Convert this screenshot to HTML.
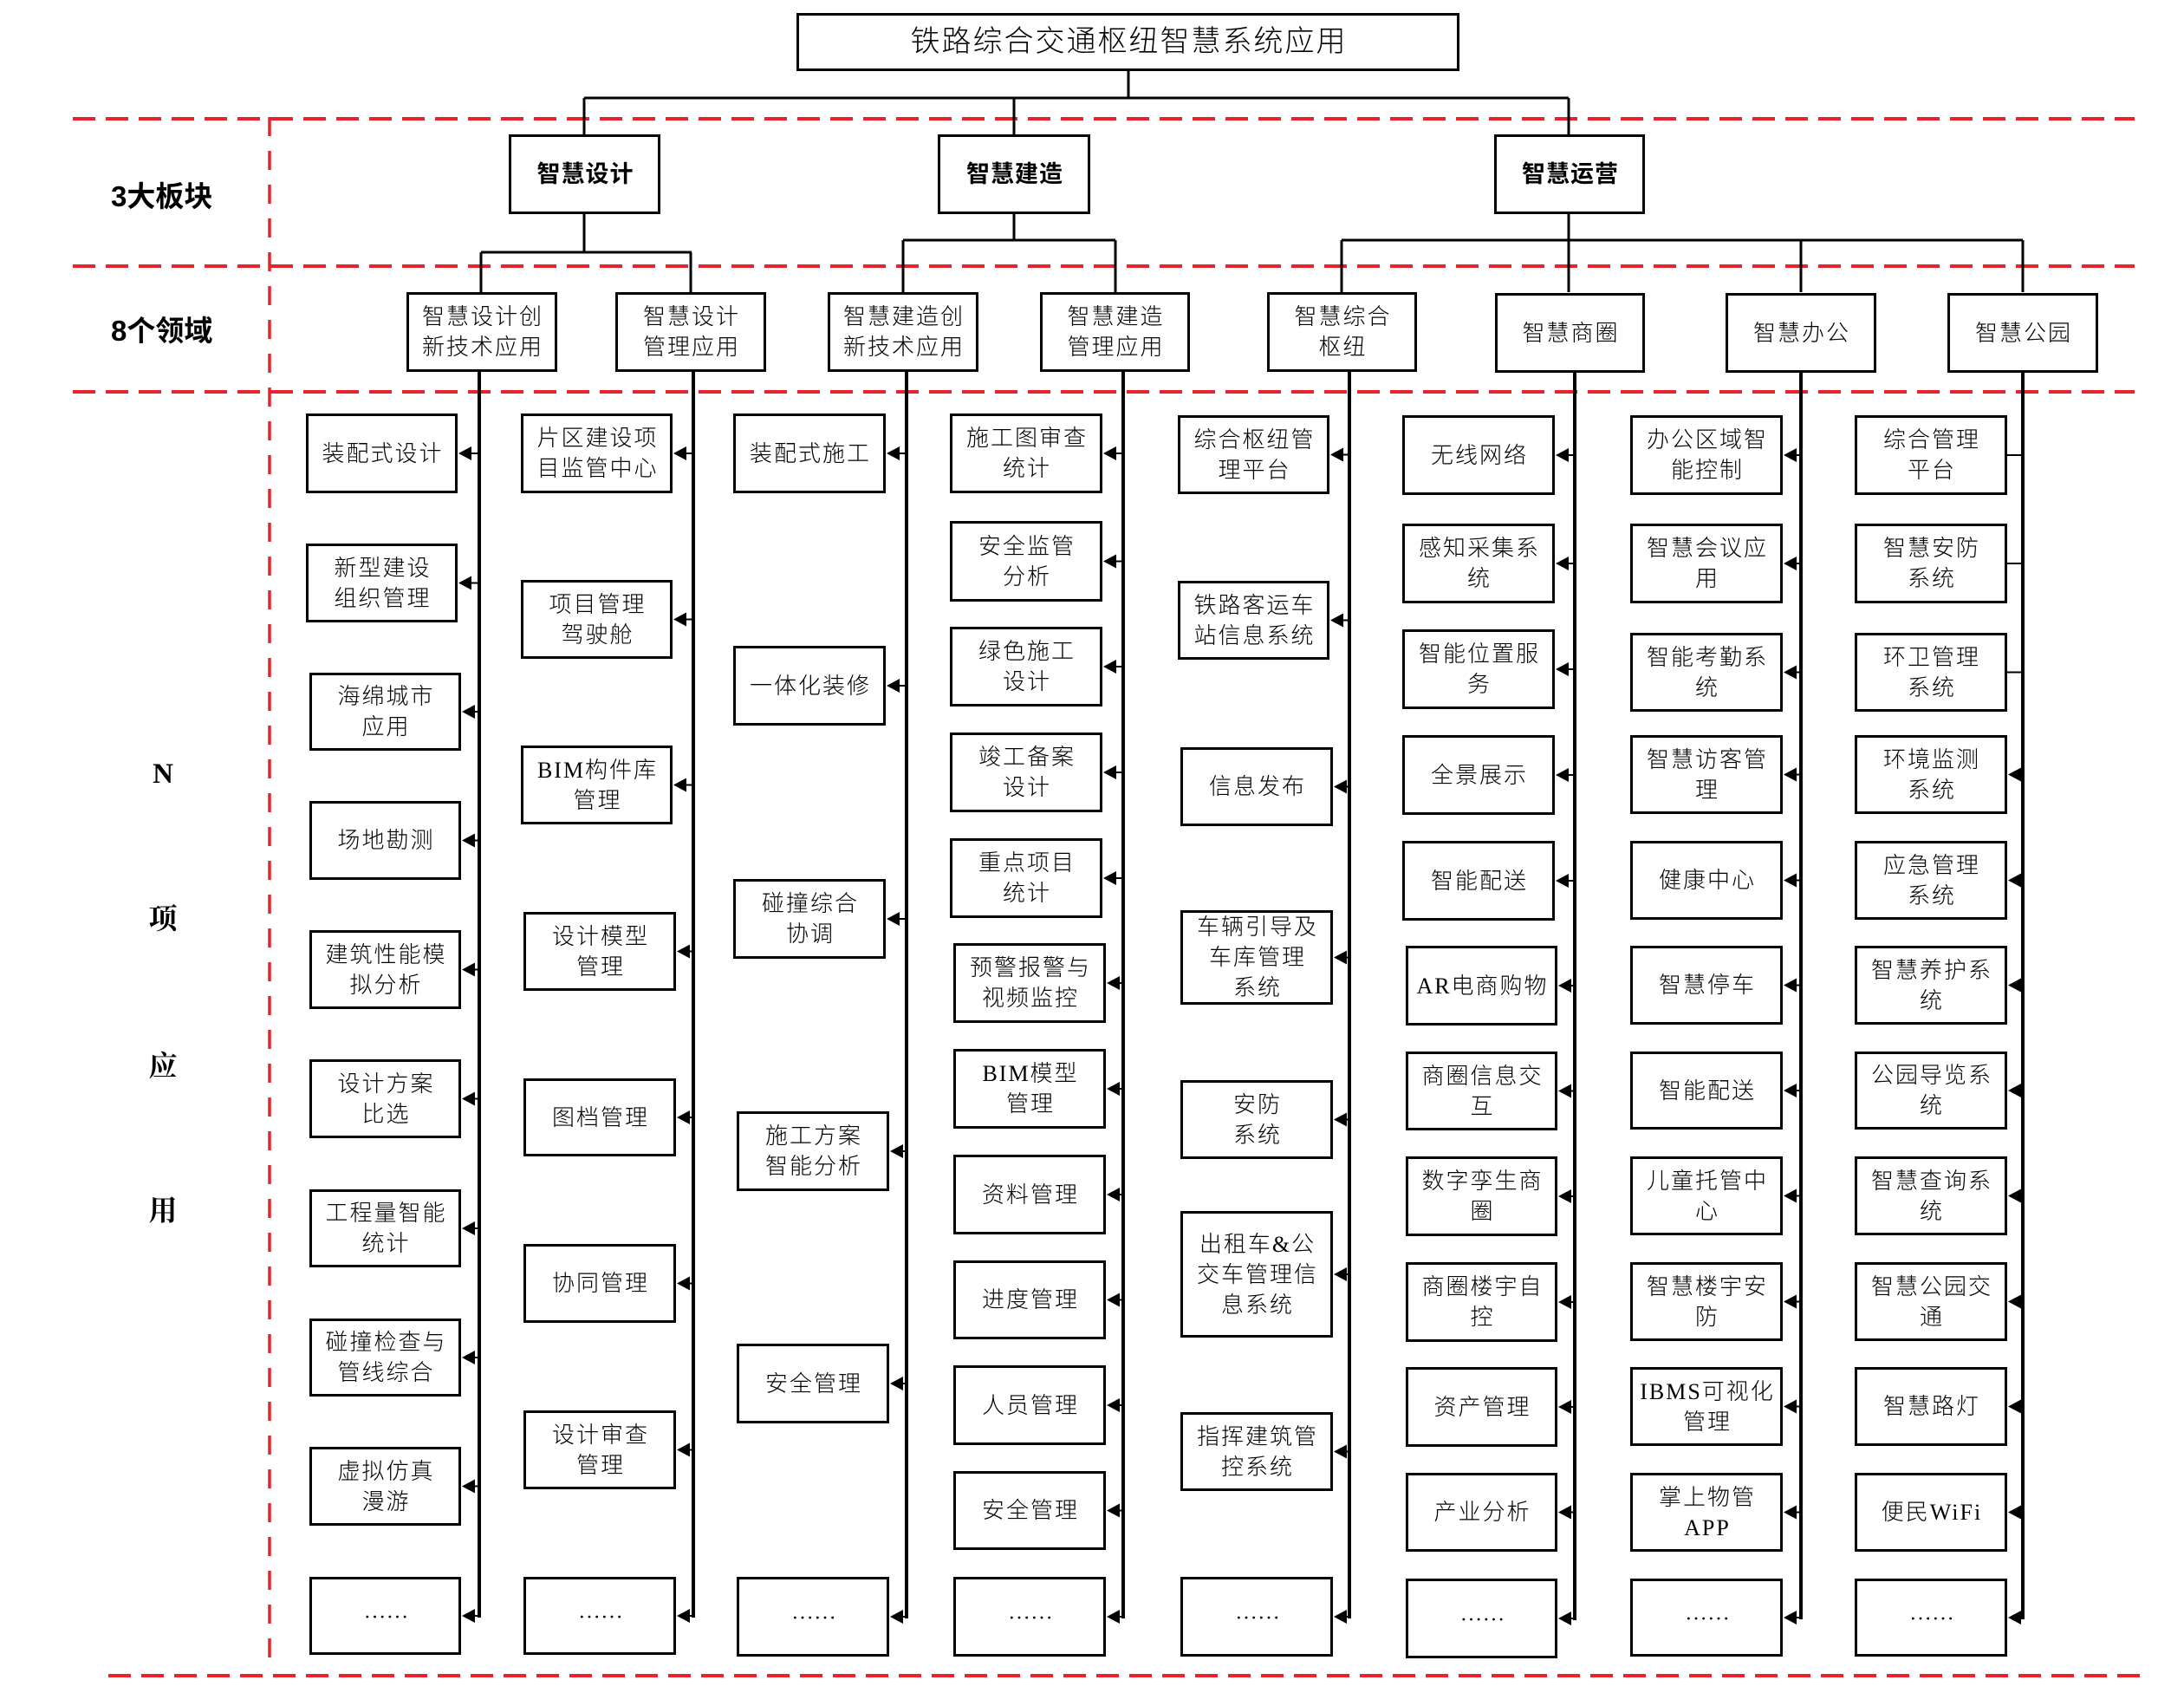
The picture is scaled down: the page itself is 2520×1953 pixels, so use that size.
<!DOCTYPE html>
<html><head><meta charset="utf-8">
<style>
html,body{margin:0;padding:0;background:#fff;}
body{width:2520px;height:1953px;position:relative;overflow:hidden;}
svg{position:absolute;left:0;top:0;}
.b{position:absolute;box-sizing:border-box;border:3px solid #000;background:#fff;display:flex;align-items:center;justify-content:center;text-align:center;font-family:"Liberation Serif","Noto Sans CJK SC",sans-serif;font-weight:300;font-size:26px;line-height:35px;letter-spacing:2px;color:#000;padding-left:2px;}
.t{font-family:"Liberation Sans","Noto Sans CJK SC",sans-serif;font-size:34px;letter-spacing:2px;font-weight:300;}
.k{font-family:"Liberation Sans","Noto Sans CJK SC",sans-serif;font-weight:bold;font-size:27px;letter-spacing:1px;}
.d{font-family:"Liberation Sans","Noto Sans CJK SC",sans-serif;font-weight:300;font-size:26px;letter-spacing:2px;}
.e{font-family:"Noto Sans CJK SC",sans-serif;letter-spacing:0;}
.lab{position:absolute;font-family:"Liberation Sans","Noto Sans CJK SC",sans-serif;font-weight:bold;font-size:33px;line-height:40px;white-space:nowrap;}
.nl{position:absolute;width:60px;left:158px;text-align:center;font-family:"Liberation Serif","Noto Serif CJK SC",serif;font-weight:bold;font-size:33px;line-height:40px;}
</style></head><body>
<svg width="2520" height="1953" viewBox="0 0 2520 1953">
<defs><polygon id="ah" points="0,0 15,-8 15,8" fill="#000"/></defs>
<g stroke="#e8232b" stroke-width="4" stroke-dasharray="26 12" fill="none">
<line x1="84" y1="137" x2="2463" y2="137"/>
<line x1="84" y1="307" x2="2463" y2="307"/>
<line x1="84" y1="452" x2="2463" y2="452"/>
<line x1="125" y1="1933" x2="2476" y2="1933"/>
</g>
<line x1="311" y1="135" x2="311" y2="1912" stroke="#e8232b" stroke-width="3.5" stroke-dasharray="22 17"/>
<g stroke="#000" stroke-width="3" fill="none">
<line x1="1302" y1="82" x2="1302" y2="113"/>
<line x1="674" y1="113" x2="1810" y2="113"/>
<line x1="674" y1="113" x2="674" y2="155"/>
<line x1="1170" y1="113" x2="1170" y2="155"/>
<line x1="1810" y1="113" x2="1810" y2="155"/>
<line x1="674" y1="247" x2="674" y2="291"/>
<line x1="555" y1="291" x2="798" y2="291"/>
<line x1="555" y1="291" x2="555" y2="337"/>
<line x1="797" y1="291" x2="797" y2="337"/>
<line x1="1170" y1="247" x2="1170" y2="277"/>
<line x1="1042" y1="277" x2="1287" y2="277"/>
<line x1="1042" y1="277" x2="1042" y2="337"/>
<line x1="1287" y1="277" x2="1287" y2="337"/>
<line x1="1810" y1="247" x2="1810" y2="337"/>
<line x1="1548" y1="277" x2="2334" y2="277"/>
<line x1="1548" y1="277" x2="1548" y2="337"/>
<line x1="2078" y1="277" x2="2078" y2="337"/>
<line x1="2334" y1="277" x2="2334" y2="337"/>
</g>
<g stroke="#000" stroke-width="4" fill="none">
<line x1="553" y1="429" x2="553" y2="1866"/>
<line x1="800" y1="429" x2="800" y2="1866"/>
<line x1="1046" y1="429" x2="1046" y2="1867"/>
<line x1="1296" y1="429" x2="1296" y2="1867"/>
<line x1="1557" y1="429" x2="1557" y2="1867"/>
<line x1="1817" y1="429" x2="1817" y2="1869"/>
<line x1="2078" y1="429" x2="2078" y2="1868"/>
<line x1="2334" y1="429" x2="2334" y2="1868"/>
</g>
<g stroke="#000" stroke-width="2">
<line x1="538" y1="523" x2="553" y2="523"/><line x1="538" y1="672.5" x2="553" y2="672.5"/><line x1="542" y1="821" x2="553" y2="821"/><line x1="542" y1="969.5" x2="553" y2="969.5"/><line x1="542" y1="1118.5" x2="553" y2="1118.5"/><line x1="542" y1="1267.5" x2="553" y2="1267.5"/><line x1="542" y1="1417" x2="553" y2="1417"/><line x1="542" y1="1566" x2="553" y2="1566"/><line x1="542" y1="1714.5" x2="553" y2="1714.5"/><line x1="542" y1="1864" x2="553" y2="1864"/>
<line x1="786" y1="523" x2="800" y2="523"/><line x1="786" y1="714.5" x2="800" y2="714.5"/><line x1="786" y1="905.5" x2="800" y2="905.5"/><line x1="790" y1="1097.5" x2="800" y2="1097.5"/><line x1="790" y1="1289" x2="800" y2="1289"/><line x1="790" y1="1480.5" x2="800" y2="1480.5"/><line x1="790" y1="1672.5" x2="800" y2="1672.5"/><line x1="790" y1="1864" x2="800" y2="1864"/>
<line x1="1032" y1="523" x2="1046" y2="523"/><line x1="1032" y1="791" x2="1046" y2="791"/><line x1="1032" y1="1060" x2="1046" y2="1060"/><line x1="1036" y1="1328" x2="1046" y2="1328"/><line x1="1036" y1="1596" x2="1046" y2="1596"/><line x1="1036" y1="1865" x2="1046" y2="1865"/>
<line x1="1282" y1="523" x2="1296" y2="523"/><line x1="1282" y1="647.5" x2="1296" y2="647.5"/><line x1="1282" y1="769" x2="1296" y2="769"/><line x1="1282" y1="891" x2="1296" y2="891"/><line x1="1282" y1="1013" x2="1296" y2="1013"/><line x1="1286" y1="1134" x2="1296" y2="1134"/><line x1="1286" y1="1256" x2="1296" y2="1256"/><line x1="1286" y1="1378" x2="1296" y2="1378"/><line x1="1286" y1="1499.5" x2="1296" y2="1499.5"/><line x1="1286" y1="1621" x2="1296" y2="1621"/><line x1="1286" y1="1742.5" x2="1296" y2="1742.5"/><line x1="1286" y1="1865" x2="1296" y2="1865"/>
<line x1="1544" y1="524.5" x2="1557" y2="524.5"/><line x1="1544" y1="715.5" x2="1557" y2="715.5"/><line x1="1548" y1="907.5" x2="1557" y2="907.5"/><line x1="1548" y1="1104.5" x2="1557" y2="1104.5"/><line x1="1548" y1="1291.5" x2="1557" y2="1291.5"/><line x1="1548" y1="1470" x2="1557" y2="1470"/><line x1="1548" y1="1674.5" x2="1557" y2="1674.5"/><line x1="1548" y1="1865" x2="1557" y2="1865"/>
<line x1="1804" y1="525" x2="1817" y2="525"/><line x1="1804" y1="650" x2="1817" y2="650"/><line x1="1804" y1="772" x2="1817" y2="772"/><line x1="1804" y1="894" x2="1817" y2="894"/><line x1="1804" y1="1016" x2="1817" y2="1016"/><line x1="1807" y1="1137" x2="1817" y2="1137"/><line x1="1807" y1="1258.5" x2="1817" y2="1258.5"/><line x1="1807" y1="1380" x2="1817" y2="1380"/><line x1="1807" y1="1502" x2="1817" y2="1502"/><line x1="1807" y1="1623" x2="1817" y2="1623"/><line x1="1807" y1="1744.5" x2="1817" y2="1744.5"/><line x1="1807" y1="1867" x2="1817" y2="1867"/>
<line x1="2067" y1="525" x2="2078" y2="525"/><line x1="2067" y1="650" x2="2078" y2="650"/><line x1="2067" y1="775.5" x2="2078" y2="775.5"/><line x1="2067" y1="893.5" x2="2078" y2="893.5"/><line x1="2067" y1="1015.5" x2="2078" y2="1015.5"/><line x1="2067" y1="1136.5" x2="2078" y2="1136.5"/><line x1="2067" y1="1258" x2="2078" y2="1258"/><line x1="2067" y1="1379.5" x2="2078" y2="1379.5"/><line x1="2067" y1="1501.5" x2="2078" y2="1501.5"/><line x1="2067" y1="1622.5" x2="2078" y2="1622.5"/><line x1="2067" y1="1744.5" x2="2078" y2="1744.5"/><line x1="2067" y1="1866" x2="2078" y2="1866"/>
<line x1="2316" y1="525" x2="2334" y2="525"/><line x1="2316" y1="650" x2="2334" y2="650"/><line x1="2316" y1="775.5" x2="2334" y2="775.5"/><line x1="2326" y1="893.5" x2="2334" y2="893.5"/><line x1="2326" y1="1015.5" x2="2334" y2="1015.5"/><line x1="2326" y1="1136.5" x2="2334" y2="1136.5"/><line x1="2326" y1="1258" x2="2334" y2="1258"/><line x1="2326" y1="1379.5" x2="2334" y2="1379.5"/><line x1="2326" y1="1501.5" x2="2334" y2="1501.5"/><line x1="2326" y1="1622.5" x2="2334" y2="1622.5"/><line x1="2326" y1="1744.5" x2="2334" y2="1744.5"/><line x1="2326" y1="1866" x2="2334" y2="1866"/>
</g>
<g>
<use href="#ah" x="529" y="523"/><use href="#ah" x="529" y="672.5"/><use href="#ah" x="533" y="821"/><use href="#ah" x="533" y="969.5"/><use href="#ah" x="533" y="1118.5"/><use href="#ah" x="533" y="1267.5"/><use href="#ah" x="533" y="1417"/><use href="#ah" x="533" y="1566"/><use href="#ah" x="533" y="1714.5"/><use href="#ah" x="533" y="1864"/>
<use href="#ah" x="777" y="523"/><use href="#ah" x="777" y="714.5"/><use href="#ah" x="777" y="905.5"/><use href="#ah" x="781" y="1097.5"/><use href="#ah" x="781" y="1289"/><use href="#ah" x="781" y="1480.5"/><use href="#ah" x="781" y="1672.5"/><use href="#ah" x="781" y="1864"/>
<use href="#ah" x="1023" y="523"/><use href="#ah" x="1023" y="791"/><use href="#ah" x="1023" y="1060"/><use href="#ah" x="1027" y="1328"/><use href="#ah" x="1027" y="1596"/><use href="#ah" x="1027" y="1865"/>
<use href="#ah" x="1273" y="523"/><use href="#ah" x="1273" y="647.5"/><use href="#ah" x="1273" y="769"/><use href="#ah" x="1273" y="891"/><use href="#ah" x="1273" y="1013"/><use href="#ah" x="1277" y="1134"/><use href="#ah" x="1277" y="1256"/><use href="#ah" x="1277" y="1378"/><use href="#ah" x="1277" y="1499.5"/><use href="#ah" x="1277" y="1621"/><use href="#ah" x="1277" y="1742.5"/><use href="#ah" x="1277" y="1865"/>
<use href="#ah" x="1535" y="524.5"/><use href="#ah" x="1535" y="715.5"/><use href="#ah" x="1539" y="907.5"/><use href="#ah" x="1539" y="1104.5"/><use href="#ah" x="1539" y="1291.5"/><use href="#ah" x="1539" y="1470"/><use href="#ah" x="1539" y="1674.5"/><use href="#ah" x="1539" y="1865"/>
<use href="#ah" x="1795" y="525"/><use href="#ah" x="1795" y="650"/><use href="#ah" x="1795" y="772"/><use href="#ah" x="1795" y="894"/><use href="#ah" x="1795" y="1016"/><use href="#ah" x="1798" y="1137"/><use href="#ah" x="1798" y="1258.5"/><use href="#ah" x="1798" y="1380"/><use href="#ah" x="1798" y="1502"/><use href="#ah" x="1798" y="1623"/><use href="#ah" x="1798" y="1744.5"/><use href="#ah" x="1798" y="1867"/>
<use href="#ah" x="2058" y="525"/><use href="#ah" x="2058" y="650"/><use href="#ah" x="2058" y="775.5"/><use href="#ah" x="2058" y="893.5"/><use href="#ah" x="2058" y="1015.5"/><use href="#ah" x="2058" y="1136.5"/><use href="#ah" x="2058" y="1258"/><use href="#ah" x="2058" y="1379.5"/><use href="#ah" x="2058" y="1501.5"/><use href="#ah" x="2058" y="1622.5"/><use href="#ah" x="2058" y="1744.5"/><use href="#ah" x="2058" y="1866"/>
<use href="#ah" x="2317" y="893.5"/><use href="#ah" x="2317" y="1015.5"/><use href="#ah" x="2317" y="1136.5"/><use href="#ah" x="2317" y="1258"/><use href="#ah" x="2317" y="1379.5"/><use href="#ah" x="2317" y="1501.5"/><use href="#ah" x="2317" y="1622.5"/><use href="#ah" x="2317" y="1744.5"/><use href="#ah" x="2317" y="1866"/>
</g>
</svg>

<div class="lab" style="left:128px;top:207px;">3大板块</div>
<div class="lab" style="left:128px;top:362px;">8个领域</div>
<div class="nl" style="top:873px;">N</div>
<div class="nl" style="top:1041px;">项</div>
<div class="nl" style="top:1211px;">应</div>
<div class="nl" style="top:1378px;">用</div>

<div class="b t" style="left:919px;top:15px;width:765px;height:67px;">铁路综合交通枢纽智慧系统应用</div>

<div class="b k" style="left:587px;top:155px;width:175px;height:92px;">智慧设计</div>
<div class="b k" style="left:1082px;top:155px;width:176px;height:92px;">智慧建造</div>
<div class="b k" style="left:1724px;top:155px;width:174px;height:92px;">智慧运营</div>

<div class="b d" style="left:469px;top:337px;width:174px;height:92px;">智慧设计创<br>新技术应用</div>
<div class="b d" style="left:710px;top:337px;width:174px;height:92px;">智慧设计<br>管理应用</div>
<div class="b d" style="left:955px;top:337px;width:174px;height:92px;">智慧建造创<br>新技术应用</div>
<div class="b d" style="left:1200px;top:337px;width:173px;height:92px;">智慧建造<br>管理应用</div>
<div class="b d" style="left:1462px;top:337px;width:173px;height:92px;">智慧综合<br>枢纽</div>
<div class="b d" style="left:1725px;top:338px;width:173px;height:92px;">智慧商圈</div>
<div class="b d" style="left:1991px;top:338px;width:174px;height:92px;">智慧办公</div>
<div class="b d" style="left:2247px;top:338px;width:174px;height:92px;">智慧公园</div>

<div class="b" style="left:353px;top:477px;width:175px;height:92px;">装配式设计</div>
<div class="b" style="left:353px;top:627px;width:175px;height:91px;">新型建设<br>组织管理</div>
<div class="b" style="left:357px;top:776px;width:175px;height:90px;">海绵城市<br>应用</div>
<div class="b" style="left:357px;top:924px;width:175px;height:91px;">场地勘测</div>
<div class="b" style="left:357px;top:1073px;width:175px;height:91px;">建筑性能模<br>拟分析</div>
<div class="b" style="left:357px;top:1222px;width:175px;height:91px;">设计方案<br>比选</div>
<div class="b" style="left:357px;top:1372px;width:175px;height:90px;">工程量智能<br>统计</div>
<div class="b" style="left:357px;top:1521px;width:175px;height:90px;">碰撞检查与<br>管线综合</div>
<div class="b" style="left:357px;top:1669px;width:175px;height:91px;">虚拟仿真<br>漫游</div>
<div class="b" style="left:357px;top:1819px;width:175px;height:90px;"><span class="e">……</span></div>

<div class="b" style="left:601px;top:477px;width:175px;height:92px;">片区建设项<br>目监管中心</div>
<div class="b" style="left:601px;top:669px;width:175px;height:91px;">项目管理<br>驾驶舱</div>
<div class="b" style="left:601px;top:860px;width:175px;height:91px;">BIM构件库<br>管理</div>
<div class="b" style="left:604px;top:1052px;width:176px;height:91px;">设计模型<br>管理</div>
<div class="b" style="left:604px;top:1244px;width:176px;height:90px;">图档管理</div>
<div class="b" style="left:604px;top:1435px;width:176px;height:91px;">协同管理</div>
<div class="b" style="left:604px;top:1627px;width:176px;height:91px;">设计审查<br>管理</div>
<div class="b" style="left:604px;top:1819px;width:176px;height:90px;"><span class="e">……</span></div>

<div class="b" style="left:846px;top:477px;width:176px;height:92px;">装配式施工</div>
<div class="b" style="left:846px;top:745px;width:176px;height:92px;">一体化装修</div>
<div class="b" style="left:846px;top:1014px;width:176px;height:92px;">碰撞综合<br>协调</div>
<div class="b" style="left:850px;top:1282px;width:176px;height:92px;">施工方案<br>智能分析</div>
<div class="b" style="left:850px;top:1550px;width:176px;height:92px;">安全管理</div>
<div class="b" style="left:850px;top:1819px;width:176px;height:92px;"><span class="e">……</span></div>

<div class="b" style="left:1096px;top:477px;width:176px;height:92px;">施工图审查<br>统计</div>
<div class="b" style="left:1096px;top:601px;width:176px;height:93px;">安全监管<br>分析</div>
<div class="b" style="left:1096px;top:723px;width:176px;height:92px;">绿色施工<br>设计</div>
<div class="b" style="left:1096px;top:845px;width:176px;height:92px;">竣工备案<br>设计</div>
<div class="b" style="left:1096px;top:967px;width:176px;height:92px;">重点项目<br>统计</div>
<div class="b" style="left:1100px;top:1088px;width:176px;height:92px;">预警报警与<br>视频监控</div>
<div class="b" style="left:1100px;top:1210px;width:176px;height:92px;">BIM模型<br>管理</div>
<div class="b" style="left:1100px;top:1332px;width:176px;height:92px;">资料管理</div>
<div class="b" style="left:1100px;top:1454px;width:176px;height:91px;">进度管理</div>
<div class="b" style="left:1100px;top:1575px;width:176px;height:92px;">人员管理</div>
<div class="b" style="left:1100px;top:1697px;width:176px;height:91px;">安全管理</div>
<div class="b" style="left:1100px;top:1819px;width:176px;height:92px;"><span class="e">……</span></div>

<div class="b" style="left:1359px;top:479px;width:175px;height:91px;">综合枢纽管<br>理平台</div>
<div class="b" style="left:1359px;top:670px;width:175px;height:91px;">铁路客运车<br>站信息系统</div>
<div class="b" style="left:1362px;top:862px;width:176px;height:91px;">信息发布</div>
<div class="b" style="left:1362px;top:1050px;width:176px;height:109px;">车辆引导及<br>车库管理<br>系统</div>
<div class="b" style="left:1362px;top:1246px;width:176px;height:91px;">安防<br>系统</div>
<div class="b" style="left:1362px;top:1397px;width:176px;height:146px;">出租车&amp;公<br>交车管理信<br>息系统</div>
<div class="b" style="left:1362px;top:1629px;width:176px;height:91px;">指挥建筑管<br>控系统</div>
<div class="b" style="left:1362px;top:1819px;width:176px;height:92px;"><span class="e">……</span></div>

<div class="b" style="left:1618px;top:479px;width:176px;height:92px;">无线网络</div>
<div class="b" style="left:1618px;top:604px;width:176px;height:92px;">感知采集系<br>统</div>
<div class="b" style="left:1618px;top:726px;width:176px;height:92px;">智能位置服<br>务</div>
<div class="b" style="left:1618px;top:848px;width:176px;height:92px;">全景展示</div>
<div class="b" style="left:1618px;top:970px;width:176px;height:92px;">智能配送</div>
<div class="b" style="left:1622px;top:1091px;width:175px;height:92px;">AR电商购物</div>
<div class="b" style="left:1622px;top:1213px;width:175px;height:91px;">商圈信息交<br>互</div>
<div class="b" style="left:1622px;top:1334px;width:175px;height:92px;">数字孪生商<br>圈</div>
<div class="b" style="left:1622px;top:1456px;width:175px;height:92px;">商圈楼宇自<br>控</div>
<div class="b" style="left:1622px;top:1577px;width:175px;height:92px;">资产管理</div>
<div class="b" style="left:1622px;top:1699px;width:175px;height:91px;">产业分析</div>
<div class="b" style="left:1622px;top:1821px;width:175px;height:92px;"><span class="e">……</span></div>

<div class="b" style="left:1881px;top:479px;width:176px;height:92px;">办公区域智<br>能控制</div>
<div class="b" style="left:1881px;top:604px;width:176px;height:92px;">智慧会议应<br>用</div>
<div class="b" style="left:1881px;top:730px;width:176px;height:91px;">智能考勤系<br>统</div>
<div class="b" style="left:1881px;top:848px;width:176px;height:91px;">智慧访客管<br>理</div>
<div class="b" style="left:1881px;top:970px;width:176px;height:91px;">健康中心</div>
<div class="b" style="left:1881px;top:1091px;width:176px;height:91px;">智慧停车</div>
<div class="b" style="left:1881px;top:1213px;width:176px;height:90px;">智能配送</div>
<div class="b" style="left:1881px;top:1334px;width:176px;height:91px;">儿童托管中<br>心</div>
<div class="b" style="left:1881px;top:1456px;width:176px;height:91px;">智慧楼宇安<br>防</div>
<div class="b" style="left:1881px;top:1577px;width:176px;height:91px;">IBMS可视化<br>管理</div>
<div class="b" style="left:1881px;top:1699px;width:176px;height:91px;">掌上物管<br>APP</div>
<div class="b" style="left:1881px;top:1821px;width:176px;height:90px;"><span class="e">……</span></div>

<div class="b" style="left:2140px;top:479px;width:176px;height:92px;">综合管理<br>平台</div>
<div class="b" style="left:2140px;top:604px;width:176px;height:92px;">智慧安防<br>系统</div>
<div class="b" style="left:2140px;top:730px;width:176px;height:91px;">环卫管理<br>系统</div>
<div class="b" style="left:2140px;top:848px;width:176px;height:91px;">环境监测<br>系统</div>
<div class="b" style="left:2140px;top:970px;width:176px;height:91px;">应急管理<br>系统</div>
<div class="b" style="left:2140px;top:1091px;width:176px;height:91px;">智慧养护系<br>统</div>
<div class="b" style="left:2140px;top:1213px;width:176px;height:90px;">公园导览系<br>统</div>
<div class="b" style="left:2140px;top:1334px;width:176px;height:91px;">智慧查询系<br>统</div>
<div class="b" style="left:2140px;top:1456px;width:176px;height:91px;">智慧公园交<br>通</div>
<div class="b" style="left:2140px;top:1577px;width:176px;height:91px;">智慧路灯</div>
<div class="b" style="left:2140px;top:1699px;width:176px;height:91px;">便民WiFi</div>
<div class="b" style="left:2140px;top:1821px;width:176px;height:90px;"><span class="e">……</span></div>
</body></html>
